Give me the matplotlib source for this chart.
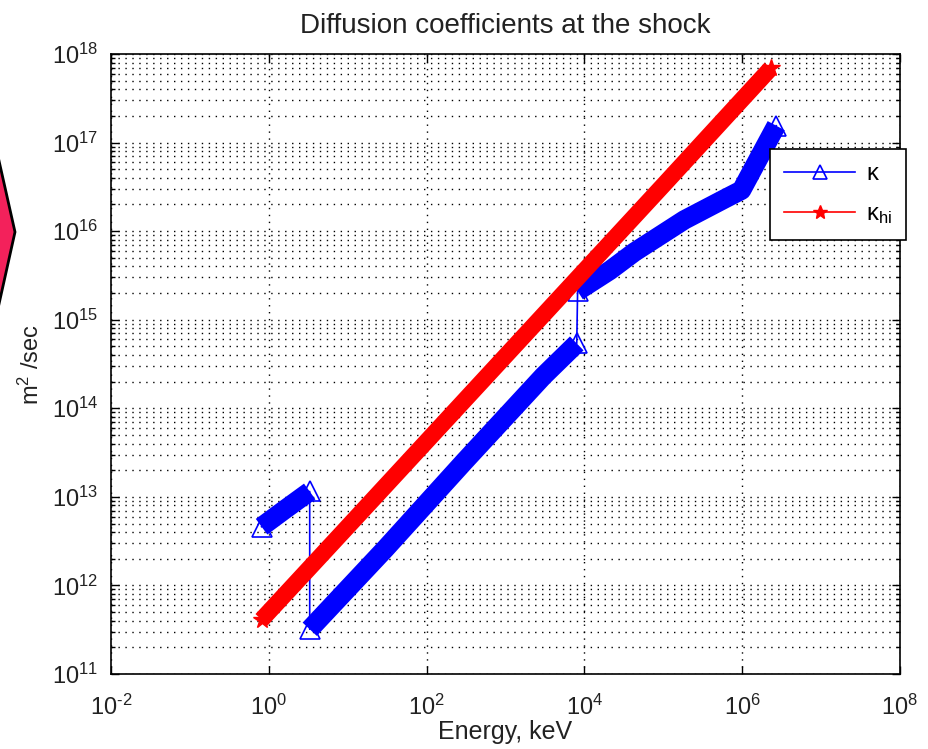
import numpy as np
import matplotlib.pyplot as plt
from matplotlib.lines import Line2D
from matplotlib.patches import Polygon
from matplotlib.ticker import LogLocator, FixedLocator, NullLocator, NullFormatter

plt.rcParams['font.family'] = ['Liberation Sans', 'DejaVu Sans']
plt.rcParams['mathtext.fontset'] = 'custom'
plt.rcParams['mathtext.rm'] = 'Liberation Sans'
plt.rcParams['mathtext.it'] = 'Liberation Sans:italic'
plt.rcParams['mathtext.default'] = 'regular'

# kappa (energy in keV, kappa in m^2/sec), three branches
e_k1 = [0.81, 1.6, 3.3]
k_k1 = [4.6e12, 7.2e12, 1.15e13]

e_k2 = [3.3, 30, 300, 3000, 8.0e3]
k_k2 = [3.2e11, 2.6e12, 2.5e13, 2.3e14, 5.4e14]

e_k3 = [8.2e3, 2.1e4, 4.3e4, 1.85e5, 6.3e5, 9.8e5, 2.7e6]
k_k3 = [2.1e15, 3.6e15, 5.8e15, 1.34e16, 2.37e16, 2.9e16, 1.55e17]

# kappa_hi
e_hi = [0.81, 10, 1e3, 1e5, 2.3e6]
k_hi = [4.1e11, 4.6e12, 3.9e14, 3.3e16, 6.9e17]

xticks = [1e-2, 1e0, 1e2, 1e4, 1e6, 1e8]
xticklabels = [r'$10^{\text{-}2}$', '$10^{0}$', '$10^{2}$', '$10^{4}$', '$10^{6}$', '$10^{8}$']
yticks = [1e11, 1e12, 1e13, 1e14, 1e15, 1e16, 1e17, 1e18]
yticklabels = ['$10^{%d}$' % p for p in range(11, 19)]

W, H = 929, 749
fig = plt.figure(figsize=(W / 100, H / 100), dpi=100)
ax = fig.add_axes([111 / W, 1 - 674 / H, 789 / W, 620 / H])

blue = '#0000ff'
red = '#ff0000'

# thin line joining every kappa point (shows the jumps)
ax.plot(e_k1 + e_k2 + e_k3, k_k1 + k_k2 + k_k3, color=blue, lw=1.2, zorder=3)
# the dense marker bands
for e, k in [(e_k1, k_k1), (e_k2, k_k2), (e_k3, k_k3)]:
    ax.plot(e, k, color=blue, lw=14, solid_capstyle='butt', solid_joinstyle='round', zorder=3)
    ax.plot(e, k, ls='none', marker='^', ms=14, mfc='none', mec=blue, mew=1.2,
            markevery=[0, len(e) - 1], zorder=3)

ax.plot(e_hi, k_hi, color=red, lw=12, solid_capstyle='butt', zorder=4)
ax.plot(e_hi, k_hi, ls='none', marker='*', ms=13, color=red, markevery=[0, len(e_hi) - 1], zorder=4)

ax.set_xscale('log')
ax.set_yscale('log')
ax.set_xlim(1e-2, 1e8)
ax.set_ylim(1e11, 1e18)

ax.xaxis.set_major_locator(FixedLocator(xticks))
ax.set_xticklabels(xticklabels)
ax.xaxis.set_minor_locator(NullLocator())
ax.yaxis.set_major_locator(FixedLocator(yticks))
ax.set_yticklabels(yticklabels)
ax.yaxis.set_minor_locator(LogLocator(base=10, subs=np.arange(2, 10), numticks=30))
ax.yaxis.set_minor_formatter(NullFormatter())

ax.tick_params(which='both', direction='in', top=True, right=True, colors='black',
               labelcolor='#222222', labelsize=17)
ax.tick_params(which='major', length=6, width=1)
ax.tick_params(axis='x', which='major', pad=15)
ax.tick_params(axis='y', which='major', pad=9)
ax.tick_params(which='minor', length=3, width=1)

ax.grid(True, which='major', axis='both', color='black', ls=(0, (1, 4)), lw=1)
ax.grid(True, which='minor', axis='y', color='black', ls=(0, (1, 4)), lw=1)
ax.set_axisbelow(True)
for s in ax.spines.values():
    s.set_linewidth(1.2)

ax.set_title('Diffusion coefficients at the shock', fontsize=20, color='#222222', pad=15)
ax.set_xlabel('Energy, keV', fontsize=18, color='#222222', labelpad=0)
ax.set_ylabel('m$^2$ /sec', fontsize=17, color='#222222')
ax.yaxis.set_label_coords(-0.085, 0.5)

handles = [Line2D([], [], color=blue, lw=1.2, marker='^', ms=10, mfc='none', mew=1.2),
           Line2D([], [], color=red, lw=1.2, marker='*', ms=10)]
leg = fig.legend(handles, [r'$\kappa$', r'$\kappa_{hi}$'], loc='upper left',
                 bbox_to_anchor=(770 / W, 1 - 149 / H), bbox_transform=fig.transFigure,
                 borderaxespad=0, fancybox=False, framealpha=1, edgecolor='black',
                 fontsize=17, handlelength=3.0, handletextpad=0.45, borderpad=0.6,
                 labelspacing=0.75, numpoints=1)
leg.get_frame().set_linewidth(1.2)

# pink arrow cut off at the left edge
arrow = Polygon([(-5 / W, 1 - 143 / H), (15 / W, 1 - 232 / H), (-5 / W, 1 - 322 / H)],
                closed=True, facecolor='#f3215b', edgecolor='black', lw=2,
                transform=fig.transFigure)
fig.add_artist(arrow)

fig.savefig('out.png', dpi=100)
